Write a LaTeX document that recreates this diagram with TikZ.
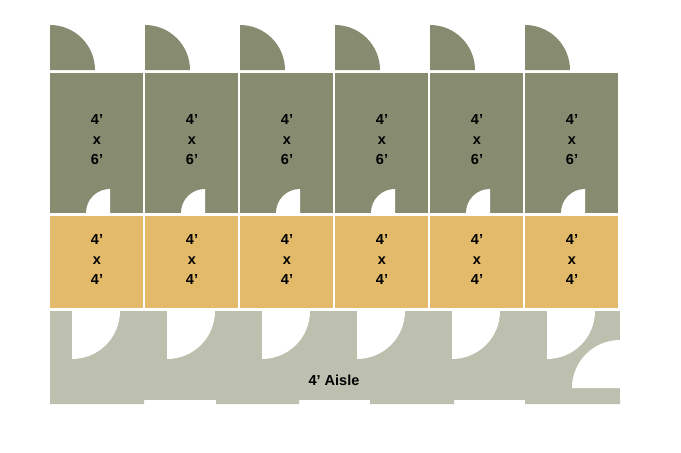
\documentclass[tikz,border=0pt]{standalone}
\usepackage{fontspec}
\setmainfont{Liberation Sans}
\begin{document}
\begin{tikzpicture}[x=1pt,y=-1pt]
\definecolor{olive}{HTML}{878C70}
\definecolor{gold}{HTML}{E2BA6A}
\definecolor{aisle}{HTML}{BDBFAF}
\tikzset{lbl/.style={font=\bfseries\fontsize{14.5}{20}\selectfont,align=center,text=black}}
\useasboundingbox (0,0) rectangle (681,453);
\fill[white] (0,0) rectangle (681,453);
% aisle
\fill[aisle] (50,311) rectangle (620,400);
\fill[aisle] (50,400) rectangle (144,404) (216,400) rectangle (299,404) (370,400) rectangle (454,404) (525,400) rectangle (620,404);
\foreach \i in {0,...,5}{
  \pgfmathsetmacro\x{50+95*\i}
  \fill[olive] (\x,70) -- (\x,25) arc[start angle=-90,end angle=0,radius=45] -- cycle;
  \fill[olive] (\x,73) rectangle ++(93,140);
  \fill[white] (\x+60,213) -- (\x+36,213) arc[start angle=180,end angle=270,radius=24] -- cycle;
  \fill[gold] (\x,216) rectangle ++(93,92);
  \fill[white] (\x+22,311) -- (\x+70,311) arc[start angle=0,end angle=90,radius=48] -- cycle;
  \node[lbl] (g\i) at (\x+47,140) {4’\\x\\6’};
  \node[lbl] (y\i) at (\x+47,260) {4’\\x\\4’};
}
\fill[white] (620,388) -- (572,388) arc[start angle=180,end angle=270,radius=48] -- cycle;
\node[lbl] (a) at (334,380) {4’ Aisle};
\end{tikzpicture}
\end{document}
